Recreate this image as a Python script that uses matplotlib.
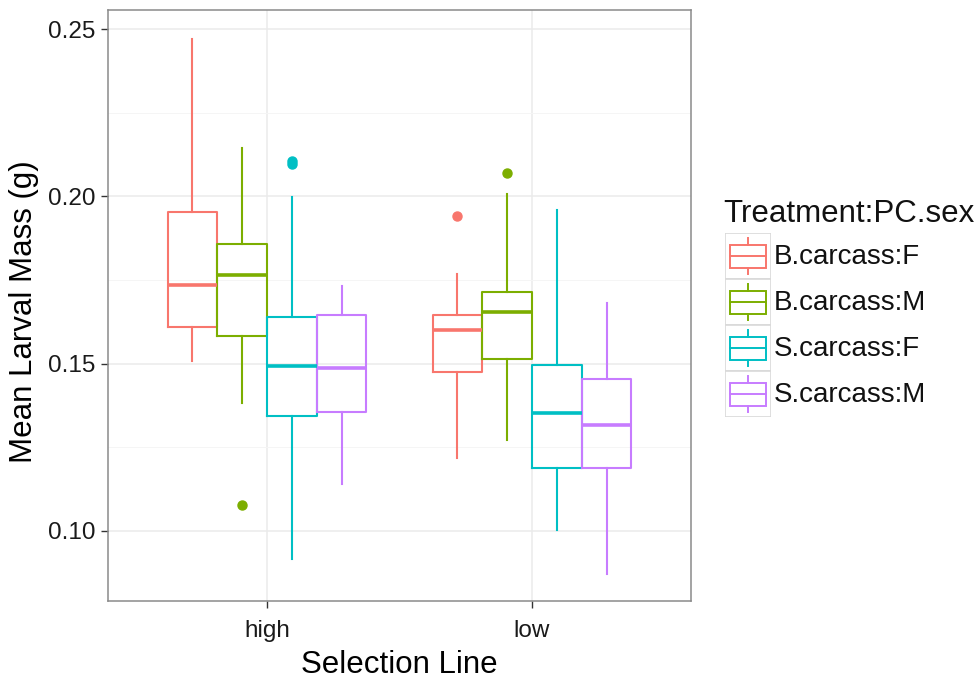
import matplotlib.pyplot as plt
from matplotlib.patches import Rectangle

plt.rcParams['font.family'] = ['Liberation Sans', 'DejaVu Sans']

lines = ['high', 'low']
groups = ['B.carcass:F', 'B.carcass:M', 'S.carcass:F', 'S.carcass:M']
colors = ['#F8766D', '#7CAE00', '#00BFC4', '#C77CFF']

# box stats, one list per selection line, in group order
high_whislo = [0.1509, 0.1383, 0.0916, 0.1140]
high_q1 = [0.1610, 0.1582, 0.1344, 0.1354]
high_med = [0.1736, 0.1766, 0.1494, 0.1487]
high_q3 = [0.1953, 0.1858, 0.1639, 0.1646]
high_whishi = [0.2470, 0.2145, 0.1998, 0.1733]
high_fliers = [[], [0.1078], [0.2105, 0.2098], []]

low_whislo = [0.1218, 0.1271, 0.1003, 0.0872]
low_q1 = [0.1474, 0.1515, 0.1189, 0.1189]
low_med = [0.1601, 0.1654, 0.1351, 0.1317]
low_q3 = [0.1645, 0.1715, 0.1496, 0.1454]
low_whishi = [0.1769, 0.2007, 0.1960, 0.1680]
low_fliers = [[0.1941], [0.2071], [], []]

yticks = [0.10, 0.15, 0.20, 0.25]

stats = {
    'high': (high_whislo, high_q1, high_med, high_q3, high_whishi, high_fliers),
    'low': (low_whislo, low_q1, low_med, low_q3, low_whishi, low_fliers),
}

fig = plt.figure(figsize=(9.78, 6.82), dpi=100)
ax = fig.add_axes([108/978, 81/682, 583/978, 591/682])

width = 0.75 / len(groups)
for i, line in enumerate(lines):
    wl, q1, md, q3, wh, fl = stats[line]
    for j, g in enumerate(groups):
        pos = i + 1 - 0.375 + width * (j + 0.5)
        st = [{'whislo': wl[j], 'q1': q1[j], 'med': md[j], 'q3': q3[j],
               'whishi': wh[j], 'fliers': fl[j]}]
        c = colors[j]
        ax.bxp(st, positions=[pos], widths=width, showcaps=False,
               boxprops=dict(color=c, linewidth=1.5),
               whiskerprops=dict(color=c, linewidth=1.5),
               medianprops=dict(color=c, linewidth=2.6, solid_capstyle='butt'),
               flierprops=dict(marker='o', markerfacecolor=c, markeredgecolor=c,
                               markersize=6.5, linestyle='none'),
               manage_ticks=False, zorder=3)

ax.set_xlim(0.4, 2.6)
ax.set_ylim(0.079, 0.2557)
ax.set_xticks([1, 2])
ax.set_xticklabels(lines)
ax.set_yticks(yticks)
ax.set_yticklabels(['%.2f' % v for v in yticks])
ax.set_yticks([0.125, 0.175, 0.225], minor=True)
ax.grid(True, which='major', color='#EBEBEB', linewidth=1.1, zorder=0)
ax.grid(True, which='minor', axis='y', color='#F5F5F5', linewidth=0.7, zorder=0)
ax.set_axisbelow(True)
ax.tick_params(axis='both', which='major', length=5, width=1, color='#333333',
               labelsize=17.5, labelcolor='#1a1a1a', pad=4)
ax.tick_params(axis='x', which='major', pad=9)
ax.tick_params(axis='y', which='minor', length=0)
for s in ax.spines.values():
    s.set_color('#8A8A8A')
    s.set_linewidth(1.1)

ax.set_xlabel('Selection Line', fontsize=22.5)
ax.set_ylabel('Mean Larval Mass (g)', fontsize=22.5)
ax.xaxis.set_label_coords(0.5, -0.108)
ax.yaxis.set_label_coords(-0.144, 0.49)
ax.xaxis.label.set_va('center')
ax.yaxis.label.set_va('center')

# legend drawn by hand in ggplot style
lg = fig.add_axes([725/978, (682-417)/682, 46/978, 184/682])
lg.set_xlim(0, 1)
lg.set_ylim(len(groups), 0)
lg.axis('off')
for j, g in enumerate(groups):
    c = colors[j]
    lg.add_patch(Rectangle((0, j), 1, 1, facecolor='white', edgecolor='#D9D9D9', linewidth=1.2))
    lg.add_patch(Rectangle((0.1, j + 0.25), 0.8, 0.5, facecolor='white', edgecolor=c, linewidth=1.4))
    lg.plot([0.1, 0.9], [j + 0.5, j + 0.5], color=c, linewidth=1.4)
    lg.plot([0.5, 0.5], [j + 0.1, j + 0.25], color=c, linewidth=1.4)
    lg.plot([0.5, 0.5], [j + 0.75, j + 0.9], color=c, linewidth=1.4)
    fig.text(774/978, (682 - (233 + 46 * j + 24))/682, g, fontsize=20,
             va='center', ha='left', color='#111111')
fig.text(723/978, (682-214)/682, 'Treatment:PC.sex', fontsize=22.5,
         va='center', ha='left', color='#111111')

fig.savefig('out.png', dpi=100)
